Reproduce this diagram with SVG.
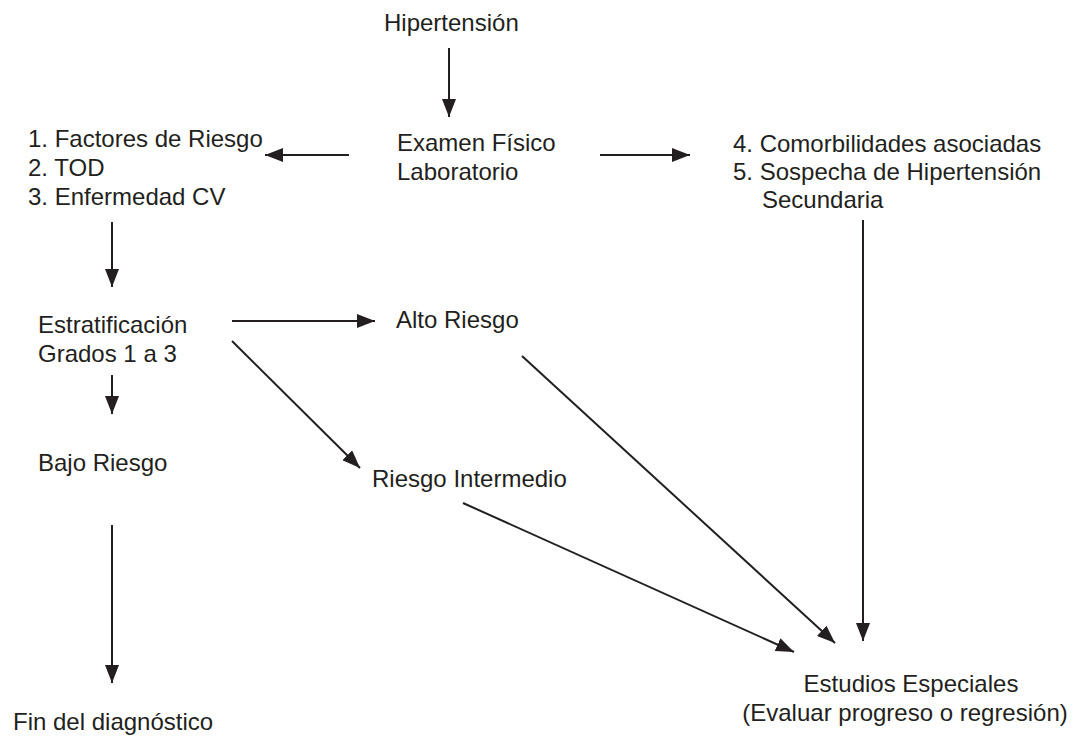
<svg xmlns="http://www.w3.org/2000/svg" width="1078" height="736" viewBox="0 0 1078 736">
<style>
text{font-family:"Liberation Sans",Arial,sans-serif;font-size:24px;fill:#231f20}
.c line{stroke:#231f20;stroke-width:2}
</style>
<defs>
<marker id="ah" markerUnits="userSpaceOnUse" markerWidth="18" markerHeight="14" viewBox="0 0 18 14" refX="18" refY="7" orient="auto">
<path d="M0,0 L18,7 L0,14 Z" fill="#231f20"/>
</marker>
</defs>
<rect width="1078" height="736" fill="#fff"/>
<g id="hipertension"><text x="384" y="31">Hipertensión</text></g>
<g id="examen"><text x="397" y="151">Examen Físico</text><text x="397" y="180">Laboratorio</text></g>
<g id="factores"><text x="28" y="147">1. Factores de Riesgo</text><text x="28" y="176">2. TOD</text><text x="28" y="205">3. Enfermedad CV</text></g>
<g id="comorbilidades"><text x="733" y="152">4. Comorbilidades asociadas</text><text x="733" y="180">5. Sospecha de Hipertensión</text><text x="762" y="208">Secundaria</text></g>
<g id="estratificacion"><text x="38" y="333">Estratificación</text><text x="38" y="362">Grados 1 a 3</text></g>
<g id="alto"><text x="396" y="328">Alto Riesgo</text></g>
<g id="intermedio"><text x="372" y="487">Riesgo Intermedio</text></g>
<g id="bajo"><text x="38" y="471">Bajo Riesgo</text></g>
<g id="fin"><text x="13" y="730">Fin del diagnóstico</text></g>
<g id="estudios"><text x="911" y="692" text-anchor="middle">Estudios Especiales</text><text x="905" y="721" text-anchor="middle">(Evaluar progreso o regresión)</text></g>
<g class="c" id="connectors">
<line x1="449" y1="48" x2="449" y2="117" marker-end="url(#ah)"/>
<line x1="349" y1="155" x2="265" y2="155" marker-end="url(#ah)"/>
<line x1="600" y1="155" x2="690" y2="155" marker-end="url(#ah)"/>
<line x1="112" y1="222" x2="112" y2="287" marker-end="url(#ah)"/>
<line x1="863" y1="220" x2="863" y2="641" marker-end="url(#ah)"/>
<line x1="232" y1="321" x2="375" y2="321" marker-end="url(#ah)"/>
<line x1="232" y1="341" x2="360" y2="468" marker-end="url(#ah)"/>
<line x1="112" y1="375" x2="112" y2="414" marker-end="url(#ah)"/>
<line x1="522" y1="356" x2="835" y2="643" marker-end="url(#ah)"/>
<line x1="463" y1="503" x2="794" y2="652" marker-end="url(#ah)"/>
<line x1="112" y1="525" x2="112" y2="683" marker-end="url(#ah)"/>
</g>
</svg>
